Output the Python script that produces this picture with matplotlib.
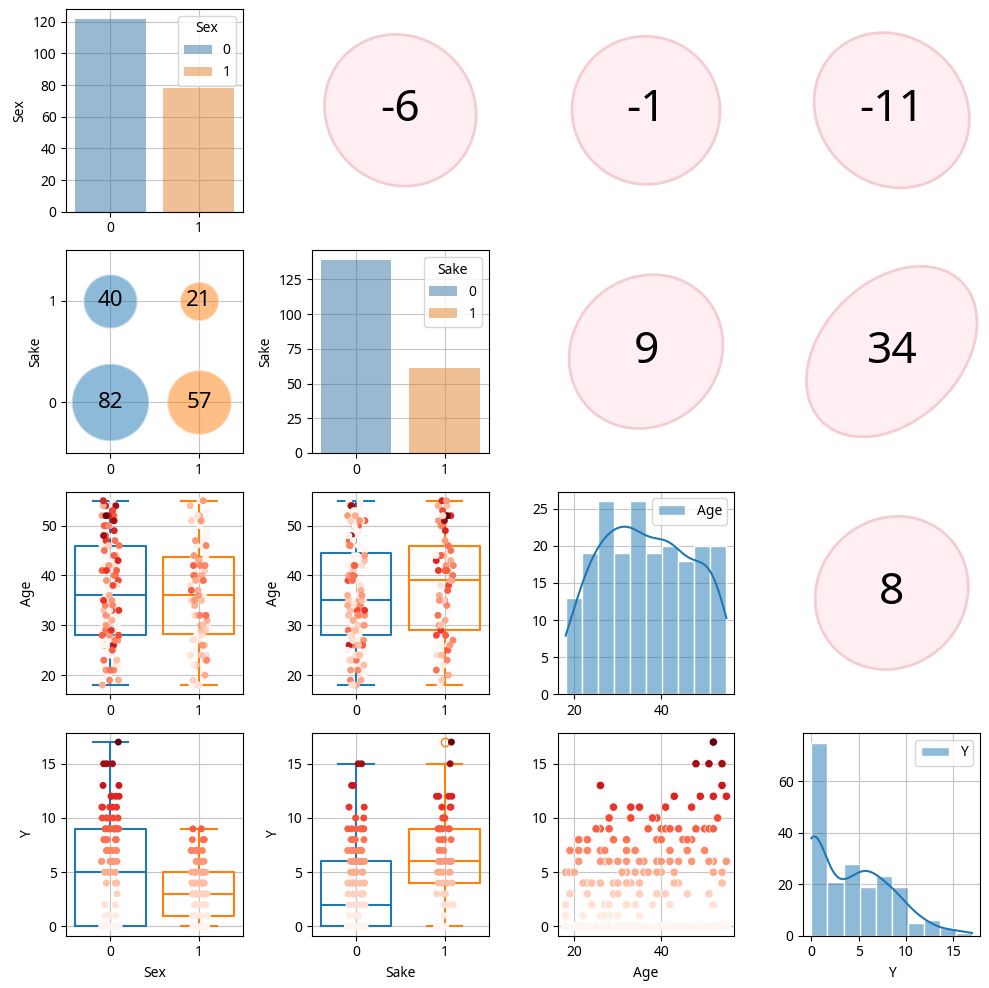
import matplotlib
matplotlib.use('Agg')
import matplotlib.pyplot as plt
from matplotlib.patches import Ellipse
import numpy as np
import pandas as pd
import seaborn as sns

plt.rcParams['font.family'] = ['Noto Sans', 'DejaVu Sans']

columns = ['Sex', 'Sake', 'Age', 'Y']
cat_vars = ['Sex', 'Sake']

# ages of the respondents in each (Sex, Sake) group, keyed by their Y value
ages_s0k0 = {
    0: [20, 21, 22, 22, 23, 23, 24, 25, 44, 27, 27, 29, 29, 30, 30, 31, 31, 32, 32,
        33, 33, 34, 34, 35, 35, 36, 37, 39, 40, 41, 42, 42, 42, 43, 46, 48, 49, 49,
        50, 51, 52, 52, 53, 54, 55],
    1: [22, 26, 28],
    2: [42],
    4: [23, 33],
    5: [18, 19, 32],
    6: [21, 27, 28, 32, 35, 52],
    7: [19, 21, 26, 34, 46],
    8: [23, 29, 47],
    9: [26, 40, 48, 50, 50, 51],
    10: [33, 39],
    11: [33, 47],
    13: [26, 54],
    15: [48, 54],
}
ages_s0k1 = {
    0: [26, 33, 38, 41, 26],
    2: [38],
    3: [46],
    4: [44],
    5: [31, 36, 54],
    6: [30, 39, 42, 51],
    7: [27, 34, 50],
    8: [21, 40, 45, 46],
    9: [25, 28, 41, 41, 44, 52],
    10: [28, 38, 53],
    11: [29, 35, 41],
    12: [43, 49, 52, 55],
    15: [51],
    17: [52],
}
ages_s1k0 = {
    0: [25, 28, 36, 41, 43, 44, 45, 46, 47, 48, 49, 50, 51, 53, 55],
    1: [18, 27, 30, 35],
    2: [18, 24, 27, 28, 32, 34, 38],
    3: [23, 29, 30, 35, 39, 41, 51],
    4: [22, 24, 26, 29, 32, 35, 43],
    5: [31, 34, 36, 37, 40, 52],
    6: [30, 36, 40, 44, 51],
    7: [32, 42, 46],
    8: [39, 40],
    9: [42],
}
ages_s1k1 = {
    0: [18, 44],
    1: [22],
    2: [24, 52],
    3: [19, 35],
    4: [24, 30, 54],
    5: [20, 39, 43],
    6: [26, 35, 47, 55],
    7: [23, 42],
    8: [32],
    9: [37],
}

# correlation labels (x100) shown in the upper triangle
corr_labels = {(0, 1): -6, (0, 2): -1, (0, 3): -11, (1, 2): 9, (1, 3): 34, (2, 3): 8}

rows = []
for (sex, sake), groups in [((0, 0), ages_s0k0), ((0, 1), ages_s0k1),
                            ((1, 0), ages_s1k0), ((1, 1), ages_s1k1)]:
    for y, ages in groups.items():
        for a in ages:
            rows.append((sex, sake, a, y))
df = pd.DataFrame(rows, columns=columns)

pal = {0: 'tab:blue', 1: 'tab:orange'}

fig, axes = plt.subplots(4, 4, figsize=(9.89, 9.88))
fig.subplots_adjust(left=0.067, right=0.991, top=0.991, bottom=0.053,
                    wspace=0.39, hspace=0.19)

for i, row_var in enumerate(columns):
    for j, col_var in enumerate(columns):
        ax = axes[i, j]
        if i < j:
            r = corr_labels[(i, j)] / 100
            ell = Ellipse((0, 0), 2 * (1 + abs(r)), 2 * np.sqrt(1 - r ** 2),
                          angle=45 if r > 0 else -45,
                          facecolor='#ffeff3', edgecolor='#f3cdd1', lw=2)
            ax.add_patch(ell)
            ax.text(0, 0, str(corr_labels[(i, j)]), ha='center', va='center', fontsize=32)
            ax.set_xlim(-1.2, 1.2)
            ax.set_ylim(-1.2, 1.2)
            ax.set_aspect('equal')
            ax.axis('off')
            continue

        if i == j:
            if col_var in cat_vars:
                sns.countplot(data=df, x=col_var, hue=col_var, palette=pal,
                              alpha=0.5, ax=ax)
                ax.legend(title=col_var, loc='upper right')
                ax.set_ylabel(col_var)
            else:
                sns.histplot(data=df, x=col_var, bins=10, kde=True, alpha=0.5,
                             edgecolor='white', ax=ax)
                ax.legend(handles=[ax.patches[0]], labels=[col_var], loc='upper right')
                ax.set_ylabel('')
        else:
            if row_var in cat_vars and col_var in cat_vars:
                counts = df.groupby([col_var, row_var]).size()
                for (cx, cy), c in counts.items():
                    ax.scatter(cx, cy, s=c * 38, color=pal[cx], alpha=0.5,
                               edgecolors='white', linewidths=1.5)
                    ax.text(cx, cy, str(c), ha='center', va='center', fontsize=16)
                ax.set_xlim(-0.5, 1.5)
                ax.set_ylim(-0.5, 1.5)
                ax.set_xticks([0, 1])
                ax.set_yticks([0, 1])
                ax.set_ylabel(row_var)
            elif col_var in cat_vars:
                sns.boxplot(data=df, x=col_var, y=row_var, hue=col_var, palette=pal,
                            fill=False, legend=False, saturation=1, linewidth=1.5, ax=ax)
                sns.stripplot(data=df, x=col_var, y=row_var, hue='Y', palette='Reds',
                              legend=False, size=5, ax=ax)
                ax.set_ylabel(row_var)
            else:
                sns.scatterplot(data=df, x=col_var, y=row_var, hue='Y', palette='Reds',
                                legend=False, ax=ax)
                ax.set_ylabel('')
        ax.grid(True, color='#c4c4c4')
        ax.set_axisbelow(True)
        if i == 3:
            ax.set_xlabel(col_var)
        else:
            ax.set_xlabel('')

fig.savefig('out.png', dpi=100)
